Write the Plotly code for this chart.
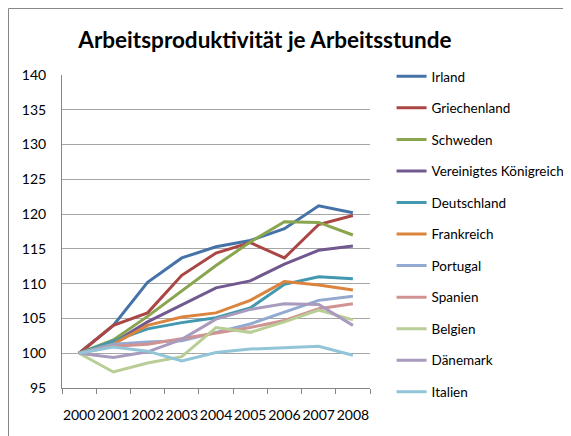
import plotly.graph_objs as go

years = ['2000', '2001', '2002', '2003', '2004', '2005', '2006', '2007', '2008']

irland = [100, 104.0, 110.2, 113.7, 115.3, 116.2, 117.9, 121.2, 120.2]
griechenland = [100, 104.0, 105.8, 111.2, 114.4, 115.9, 113.7, 118.5, 119.8]
schweden = [100, 101.9, 105.3, 109.0, 112.6, 116.0, 118.9, 118.8, 117.0]
vereinigtes_koenigreich = [100, 101.5, 104.5, 106.9, 109.4, 110.4, 112.8, 114.8, 115.4]
deutschland = [100, 101.7, 103.5, 104.4, 105.1, 106.5, 109.9, 111.0, 110.7]
frankreich = [100, 101.3, 104.0, 105.2, 105.8, 107.6, 110.3, 109.8, 109.1]
portugal = [100, 101.3, 101.6, 101.8, 103.0, 104.2, 105.9, 107.6, 108.2]
spanien = [100, 101.0, 101.3, 102.1, 102.9, 103.7, 104.7, 106.4, 107.1]
belgien = [100, 97.3, 98.6, 99.5, 103.7, 103.0, 104.5, 106.2, 104.8]
daenemark = [100, 99.4, 100.2, 102.0, 104.9, 106.3, 107.1, 107.0, 104.0]
italien = [100, 100.9, 100.3, 98.9, 100.1, 100.6, 100.8, 101.0, 99.7]

names = ['Irland', 'Griechenland', 'Schweden', 'Vereinigtes Königreich', 'Deutschland',
         'Frankreich', 'Portugal', 'Spanien', 'Belgien', 'Dänemark', 'Italien']
series = [irland, griechenland, schweden, vereinigtes_koenigreich, deutschland,
          frankreich, portugal, spanien, belgien, daenemark, italien]
colors = ['#4572A7', '#AA4643', '#89A54E', '#71588F', '#4198AF', '#DB843D',
          '#93A9CF', '#D19392', '#B9CD96', '#A99BBD', '#92C5D8']

data = []
for i, (name, vals) in enumerate(zip(names, series)):
    data.append(go.Scatter(x=years, y=vals, mode='lines', name=name, legendgroup=str(i),
                           line=dict(color=colors[i], width=3)))

# the page body has an 8px margin, so the figure sits 8px right/down in the window
layout = go.Layout(
    width=571, height=436,
    margin=dict(l=54, r=209, t=67, b=56, autoexpand=False),
    paper_bgcolor='white', plot_bgcolor='white',
    font=dict(family='Lato', size=14, color='black'),
    title=dict(text='<b>Arbeitsproduktivität je Arbeitsstunde</b>', x=0.450, xanchor='center',
               y=0.9266, yanchor='middle', font=dict(size=22.5, color='black')),
    xaxis=dict(type='category', range=[-0.5, 8.5], showgrid=False, showline=True,
               linecolor='#868686', ticks='outside', ticklen=5, tickcolor='#868686',
               tickson='boundaries', tickangle=0, ticklabelstandoff=14),
    yaxis=dict(range=[95, 140], dtick=5, showgrid=True, gridcolor='#A6A6A6', showline=True,
               linecolor='#868686', ticks='', zeroline=False, ticklabelstandoff=12),
    legend=dict(x=1.070, xanchor='left', y=1.0447, yanchor='top', traceorder='grouped',
                tracegroupgap=11, font=dict(size=13.5), maxheight=420),
    shapes=[
        dict(type='line', xref='paper', yref='paper', x0=-0.1737, x1=-0.1737, y0=1.2125, y1=-0.3,
             line=dict(color='#878787', width=1)),
        dict(type='line', xref='paper', yref='paper', x0=-0.1737, x1=1.8, y0=1.2125, y1=1.2125,
             line=dict(color='#878787', width=1)),
    ],
)

fig = go.Figure(data=data, layout=layout)
fig.write_html('out.html')
